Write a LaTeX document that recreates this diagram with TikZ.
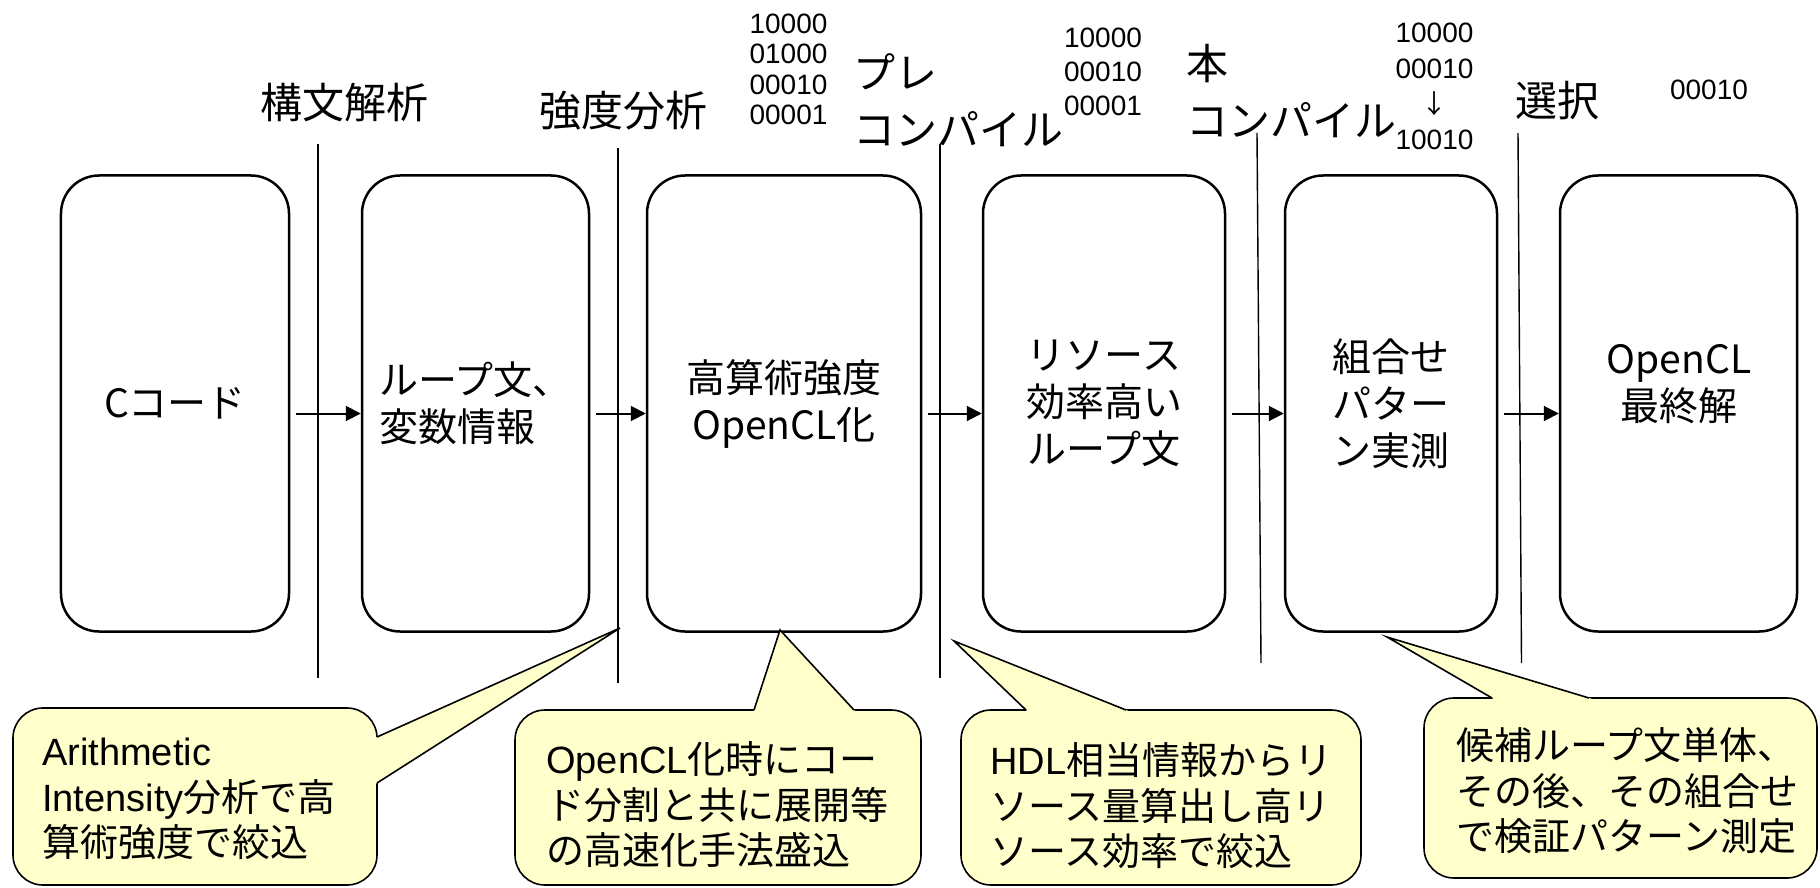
\documentclass[tikz,border=0pt]{standalone}
\usepackage{fontspec}
\setmainfont{Noto Sans CJK JP}
\newfontfamily\arial{Liberation Sans}
\usetikzlibrary{arrows.meta,calc}
\definecolor{callfill}{RGB}{255,255,204}
\begin{document}
\begin{tikzpicture}[x=1bp,y=-1bp,
  stage/.style={draw, line width=2.5bp, rounded corners=38bp, minimum width=#1,
    minimum height=456bp, inner sep=0pt, align=center,
    font=\fontsize{39bp}{47bp}\selectfont},
  boxtext/.style={inner sep=0pt, align=center, font=\fontsize{39bp}{47bp}\selectfont},
  flow/.style={line width=2bp, -{Triangle[length=15bp,width=15bp]}, shorten <=6bp},
  sep/.style={line width=1.4bp},
  lab/.style={inner sep=0pt, align=left, font=\fontsize{42bp}{57bp}\selectfont},
  bits/.style={inner sep=0pt, align=center},
  callbody/.style={draw, fill=callfill, line width=1.6bp, rounded corners=30bp, inner sep=0pt},
  calledge/.style={line width=1.6bp},
  calltext/.style={inner sep=0pt, align=left, anchor=west, font=\fontsize{38bp}{45.5bp}\selectfont}
]
\useasboundingbox (0,0) rectangle (1820,888);
\fill[white] (0,0) rectangle (1820,888);

% separator lines
\coordinate (s1t) at (318,144);  \coordinate (s1b) at (318,678);
\coordinate (s2t) at (618,148);  \coordinate (s2b) at (618,683);
\coordinate (s3t) at (940,144);  \coordinate (s3b) at (940,678);
\coordinate (s4t) at (1257,133); \coordinate (s4b) at (1261,663);
\coordinate (s5t) at (1518,133); \coordinate (s5b) at (1521.5,663);
\draw[sep] (s1t) -- (s1b);
\draw[sep] (s2t) -- (s2b);
\draw[sep] (s3t) -- (s3b);
\draw[sep] (s4t) -- (s4b);
\draw[sep] (s5t) -- (s5b);

% stage boxes
\node[stage=228bp, fill=white] (b1) at (175,403.5) {Cコード};
\node[stage=227bp, fill=white, align=left] (b2) at (475.5,403.5) {ループ文、\\変数情報};
\node[stage=274bp, fill=white] (b3) at (784,403.5) {高算術強度\\OpenCL化};
\node[stage=242bp, fill=white] (b4) at (1104,403.5) {リソース\\効率高い\\ループ文};
\node[stage=212bp, fill=white] (b5) at (1391,403.5) {組合せ\\パター\\ン実測};
\node[stage=237bp, fill=white] (b6) at (1678.5,403.5) {};
\node[boxtext] (t6) at (1679,384) {OpenCL\\最終解};

% arrows
\draw[flow] ([yshift=-10bp]b1.east) -- ([yshift=-10bp]b2.west);
\draw[flow] ([yshift=-10bp]b2.east) -- ([yshift=-10bp]b3.west);
\draw[flow] ([yshift=-10bp]b3.east) -- ([yshift=-10bp]b4.west);
\draw[flow] ([yshift=-10bp]b4.east) -- ([yshift=-10bp]b5.west);
\draw[flow] ([yshift=-10bp]b5.east) -- ([yshift=-10bp]b6.west);

% top labels
\node[lab] (k1) at (344,103) {構文解析};
\node[lab] (k2) at (623,111) {強度分析};
\node[lab, anchor=west] (k3) at (853,100) {プレ\\コンパイル};
\node[lab, anchor=west] (k4) at (1186,91) {本\\コンパイル};
\node[lab] (k5) at (1557,101) {選択};

\node[bits, font=\arial\fontsize{28bp}{30.3bp}\selectfont] (n1) at (788.5,69.5) {10000\\01000\\00010\\00001};
\node[bits, font=\arial\fontsize{28bp}{34bp}\selectfont] (n2) at (1103,72) {10000\\00010\\00001};
\node[bits, font=\arial\fontsize{28bp}{35.5bp}\selectfont] (n3) at (1434.5,86.5) {10000\\00010\\{\normalfont\fontsize{26bp}{35.5bp}\selectfont ↓}\\10010};
\node[bits, font=\arial\fontsize{28bp}{34bp}\selectfont] (n4) at (1709,90) {00010};

% callout 1
\node[callbody, minimum width=364bp, minimum height=177bp] (c1) at (195,796.5) {};
\coordinate (c1a) at (377,737); \coordinate (c1p) at (620,628); \coordinate (c1b) at (377,783);
\fill[callfill] ($(c1a)!-4bp!(c1p)$) -- (c1p) -- ($(c1b)!-4bp!(c1p)$) -- cycle;
\draw[calledge] (c1a) -- (c1p) -- (c1b);
\node[calltext] (c1t) at (42,799) {{\arial Arithmetic}\\{\arial Intensity}分析で高\\算術強度で絞込};

% callout 2
\node[callbody, minimum width=406bp, minimum height=175bp] (c2) at (718,797.5) {};
\coordinate (c2a) at (754,710); \coordinate (c2p) at (780,630); \coordinate (c2b) at (854,710);
\fill[callfill] ($(c2a)!-4bp!(c2p)$) -- (c2p) -- ($(c2b)!-4bp!(c2p)$) -- cycle;
\draw[calledge] (c2a) -- (c2p) -- (c2b);
\node[calltext] (c2t) at (546,805) {{\arial OpenCL}化時にコー\\ド分割と共に展開等\\の高速化手法盛込};

% callout 3
\node[callbody, minimum width=400bp, minimum height=175bp] (c3) at (1161,797.5) {};
\coordinate (c3a) at (1026,710); \coordinate (c3p) at (954,641); \coordinate (c3b) at (1126,710);
\fill[callfill] ($(c3a)!-4bp!(c3p)$) -- (c3p) -- ($(c3b)!-4bp!(c3p)$) -- cycle;
\draw[calledge] (c3a) -- (c3p) -- (c3b);
\node[calltext] (c3t) at (990,806) {{\arial HDL}相当情報からリ\\ソース量算出し高リ\\ソース効率で絞込};

% callout 4
\node[callbody, minimum width=393bp, minimum height=180bp] (c4) at (1620.5,788) {};
\coordinate (c4a) at (1492,698); \coordinate (c4p) at (1387,637); \coordinate (c4b) at (1589,698);
\fill[callfill] ($(c4a)!-4bp!(c4p)$) -- (c4p) -- ($(c4b)!-4bp!(c4p)$) -- cycle;
\draw[calledge] (c4a) -- (c4p) -- (c4b);
\node[calltext] (c4t) at (1456,791) {候補ループ文単体、\\その後、その組合せ\\で検証パターン測定};
\end{tikzpicture}
\end{document}
